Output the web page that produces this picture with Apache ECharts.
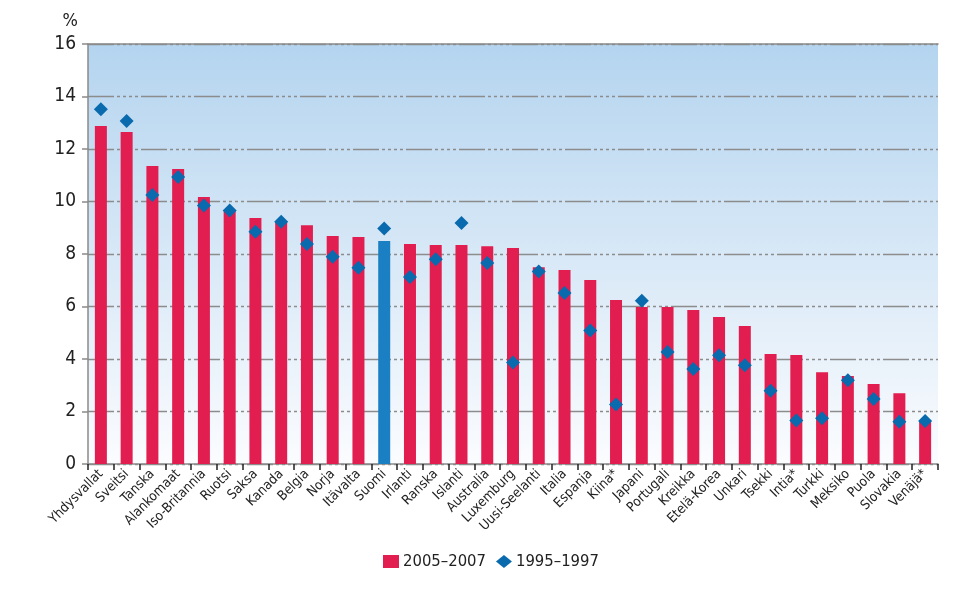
<!DOCTYPE html>
<html>
<head>
<meta charset="utf-8">
<script src="https://cdn.jsdelivr.net/npm/echarts@6/dist/echarts.min.js"></script>
<style>
html,body{margin:0;padding:0;background:#fff;}
#chart{width:957px;height:595px;}
</style>
</head>
<body>
<div id="chart"></div>
<script>
var categories = ['Yhdysvallat','Sveitsi','Tanska','Alankomaat','Iso-Britannia','Ruotsi','Saksa','Kanada','Belgia','Norja','Itävalta','Suomi','Irlanti','Ranska','Islanti','Australia','Luxemburg','Uusi-Seelanti','Italia','Espanja','Kiina*','Japani','Portugali','Kreikka','Etelä-Korea','Unkari','Tsekki','Intia*','Turkki','Meksiko','Puola','Slovakia','Venäjä*'];
var values2005 = [12.88,12.65,11.35,11.24,10.17,9.68,9.37,9.21,9.10,8.69,8.65,8.50,8.38,8.34,8.34,8.30,8.23,7.50,7.39,7.01,6.25,5.98,5.98,5.87,5.60,5.26,4.19,4.15,3.50,3.35,3.05,2.70,1.64];
var values1995 = [13.51,13.07,10.25,10.93,9.85,9.66,8.85,9.23,8.38,7.90,7.48,8.97,7.12,7.80,9.18,7.66,3.87,7.33,6.51,5.09,2.27,6.22,4.27,3.62,4.14,3.76,2.79,1.66,1.74,3.19,2.48,1.61,1.64];
var yTicks = [0,2,4,6,8,10,12,14,16];
var highlight = 'Suomi';
var seriesNames = ['2005–2007','1995–1997'];

var FONT = "'Liberation Sans Narrow','DejaVu Sans Condensed','Arial Narrow',sans-serif";
var RED = '#e21d50', BLUE_BAR = '#1b80c3', DIAMOND = '#0a6aae';

var barData = values2005.map(function(v,i){
  return categories[i] === highlight ? {value:v, itemStyle:{color:BLUE_BAR}} : v;
});

var chart = echarts.init(document.getElementById('chart'), null, {renderer:'canvas'});
chart.setOption({
  animation:false,
  textStyle:{fontFamily:FONT},
  grid:{left:88, right:19, top:44, bottom:131, show:true, borderWidth:0,
    backgroundColor:{type:'linear',x:0,y:0,x2:0,y2:1,colorStops:[{offset:0,color:'#b4d4ef'},{offset:1,color:'#fbfcfe'}]}},
  legend:{
    left:378, top:548, itemWidth:16, itemHeight:13, itemGap:10,
    textStyle:{fontFamily:FONT, fontSize:16.5, color:'#222', padding:[0,0,0,-1]},
    data:[{name:seriesNames[0], icon:'rect', itemStyle:{color:RED}},{name:seriesNames[1], icon:'diamond', itemStyle:{color:DIAMOND, opacity:1}}]
  },
  xAxis:[{
    type:'category', data:categories,
    axisLine:{lineStyle:{color:'#8a8a8a', width:1.5}},
    axisTick:{show:true, length:6, lineStyle:{color:'#222', width:1.5}},
    axisLabel:{rotate:45, interval:0, fontSize:13.5, color:'#222', fontFamily:FONT, margin:8}
  },{
    type:'category', data:categories, position:'top',
    axisLine:{show:true, lineStyle:{color:'#8a8a8a', width:1.5}},
    axisTick:{show:false}, axisLabel:{show:false}
  }],
  yAxis:{
    type:'value', min:0, max:16, interval:2,
    name:'%', nameLocation:'end', nameGap:14,
    nameTextStyle:{fontFamily:FONT, fontSize:18, color:'#222', align:'right', padding:[0,10,0,0]},
    axisLine:{show:true, lineStyle:{color:'#8a8a8a', width:1.5}},
    axisTick:{show:true, length:6, lineStyle:{color:'#8a8a8a', width:1.5}},
    axisLabel:{fontSize:19, color:'#222', fontFamily:FONT, margin:12,
      formatter:function(v){return yTicks.indexOf(v)>=0 ? String(v) : '';}},
    splitLine:{show:true, lineStyle:{color:'#8c8c8c', width:1.3, type:[26,3,3,3,3,3,3,3,3,3]}}
  },
  series:[{
    name:seriesNames[0], type:'bar', data:barData, barWidth:12,
    itemStyle:{color:RED}
  },{
    name:seriesNames[1], type:'scatter', data:values1995, symbol:'diamond', symbolSize:14,
    itemStyle:{color:DIAMOND, opacity:1}, z:5
  }]
});
</script>
</body>
</html>
